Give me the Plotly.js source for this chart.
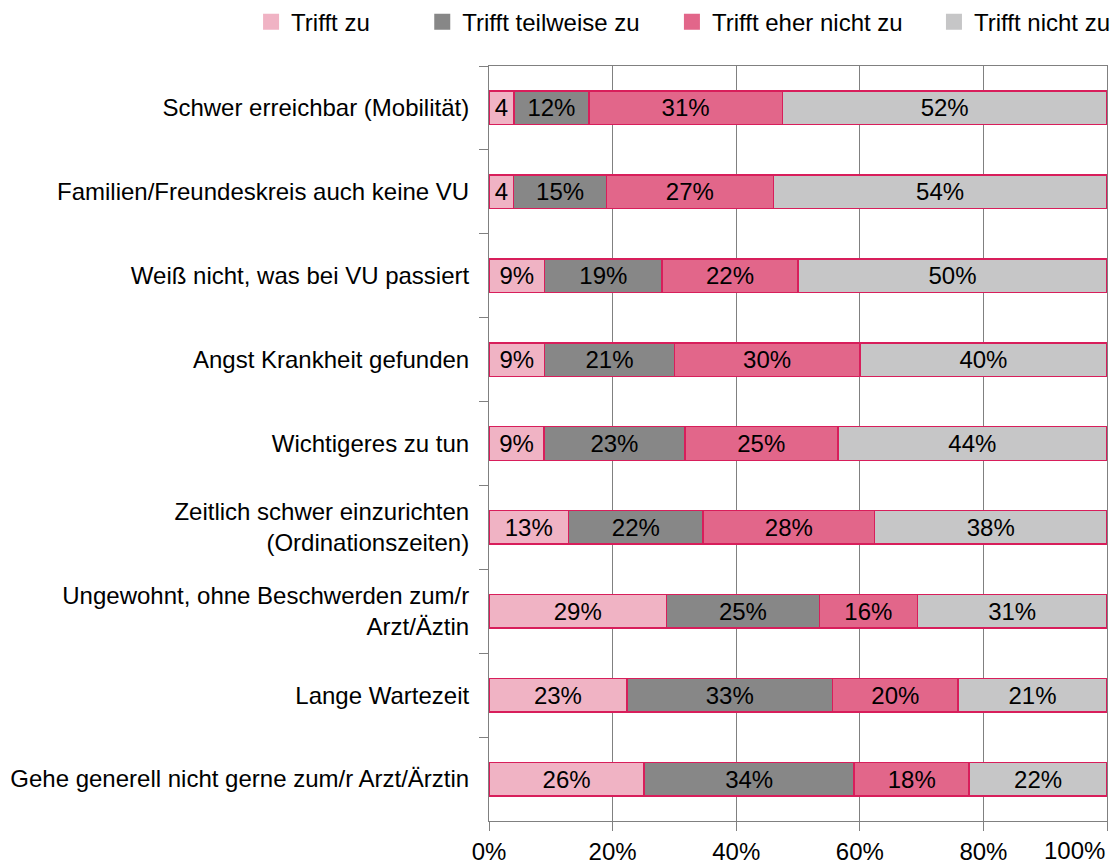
<!DOCTYPE html>
<html>
<head>
<meta charset="utf-8">
<script src="https://cdn.plot.ly/plotly-3.0.1.min.js"></script>
<style>html,body{margin:0;padding:0;background:#fff;}#chart{width:1113px;height:865px;}</style>
</head>
<body>
<div id="chart"></div>
<script>
const categories = [
  "Schwer erreichbar (Mobilität)",
  "Familien/Freundeskreis auch keine VU",
  "Weiß nicht, was bei VU passiert",
  "Angst Krankheit gefunden",
  "Wichtigeres zu tun",
  "Zeitlich schwer einzurichten<br>(Ordinationszeiten)",
  "Ungewohnt, ohne Beschwerden zum/r<br>Arzt/Äztin",
  "Lange Wartezeit",
  "Gehe generell nicht gerne zum/r Arzt/Ärztin"
];
const seriesNames = ["Trifft zu", "Trifft teilweise zu", "Trifft eher nicht zu", "Trifft nicht zu"];

// Bar lengths (stacked to 100 %)
const triffZu   = [4, 4, 9, 9, 9, 13, 29, 22.3, 25.1];
const teilweise = [12, 15, 19, 21, 23, 22, 25, 33.3, 34.0];
const eherNicht = [31, 27, 22, 30, 25, 28, 16, 20.3, 18.6];
const nicht     = [52, 54, 50, 40, 44, 38, 31, 24.1, 22.3];

// Data labels as printed in the bars
const labelTriffZu   = ["4", "4", "9%", "9%", "9%", "13%", "29%", "23%", "26%"];
const labelTeilweise = ["12%", "15%", "19%", "21%", "23%", "22%", "25%", "33%", "34%"];
const labelEherNicht = ["31%", "27%", "22%", "30%", "25%", "28%", "16%", "20%", "18%"];
const labelNicht     = ["52%", "54%", "50%", "40%", "44%", "38%", "31%", "21%", "22%"];

const xTickVals = [0, 20, 40, 60, 80, 100];
const xTickText = ["0%", "20%", "40%", "60%", "80%", "100%"];

const colors = ["#F0B3C4", "#878787", "#E2668A", "#C6C6C7"];
const series = [triffZu, teilweise, eherNicht, nicht];
const labels = [labelTriffZu, labelTeilweise, labelEherNicht, labelNicht];
const FONT = "Liberation Sans, Arial, sans-serif";
const FS = 24;
const legendIds = ["legend", "legend2", "legend3", "legend4"];
const legendX = [-0.385, -0.108, 0.296, 0.720];

const barTraces = series.map((vals, i) => ({
  type: "bar",
  orientation: "h",
  name: seriesNames[i],
  y: categories,
  x: vals,
  text: labels[i],
  textposition: "inside",
  insidetextanchor: "middle",
  textangle: 0,
  constraintext: "none",
  insidetextfont: {family: FONT, size: FS, color: "#000"},
  marker: {color: colors[i], line: {color: "#D81E5B", width: 1.5}},
  showlegend: false,
  hoverinfo: "skip"
}));

const legendTraces = seriesNames.map((nm, i) => ({
  type: "scatter",
  mode: "markers",
  name: nm,
  x: [null],
  y: [null],
  marker: {symbol: "square", size: 16, color: colors[i], line: {width: 0}},
  legend: legendIds[i],
  showlegend: true,
  hoverinfo: "skip"
}));

const layout = {
  width: 1113,
  height: 865,
  margin: {l: 489, r: 6, t: 66, b: 44, pad: 0, autoexpand: false},
  barmode: "stack",
  barnorm: "percent",
  bargap: 0.6,
  paper_bgcolor: "#fff",
  plot_bgcolor: "#fff",
  font: {family: FONT, size: FS, color: "#000"},
  showlegend: true,
  xaxis: {
    range: [0, 100],
    tickvals: xTickVals,
    ticktext: xTickText.map((t, i) => i === xTickText.length - 1 ? "" : t),
    showgrid: true,
    gridcolor: "#808080",
    gridwidth: 1,
    showline: true,
    linecolor: "#808080",
    linewidth: 1,
    mirror: true,
    ticks: "outside",
    ticklen: 9,
    tickcolor: "#808080",
    zeroline: false,
    fixedrange: true,
    automargin: false,
    tickfont: {family: FONT, size: FS, color: "#000"}
  },
  yaxis: {
    type: "category",
    autorange: "reversed",
    showline: true,
    linecolor: "#808080",
    linewidth: 1,
    mirror: true,
    ticks: "outside",
    tickson: "boundaries",
    ticklen: 9,
    tickcolor: "#808080",
    showgrid: false,
    ticklabelstandoff: 14,
    fixedrange: true,
    automargin: false,
    tickfont: {family: FONT, size: FS, color: "#000"}
  },
  annotations: [{
    x: xTickVals[xTickVals.length - 1],
    xref: "x",
    y: 0,
    yref: "paper",
    xanchor: "right",
    yanchor: "middle",
    yshift: -29,
    text: xTickText[xTickText.length - 1],
    showarrow: false,
    font: {family: FONT, size: FS, color: "#000"}
  }]
};

legendIds.forEach((id, i) => {
  layout[id] = {
    orientation: "h",
    x: legendX[i], xanchor: "left",
    y: 1.058, yanchor: "middle",
    bgcolor: "rgba(0,0,0,0)",
    borderwidth: 0,
    font: {family: FONT, size: FS, color: "#000"},
    itemclick: false,
    itemdoubleclick: false
  };
});

Plotly.newPlot("chart", barTraces.concat(legendTraces), layout, {displayModeBar: false, staticPlot: true});
</script>
</body>
</html>
